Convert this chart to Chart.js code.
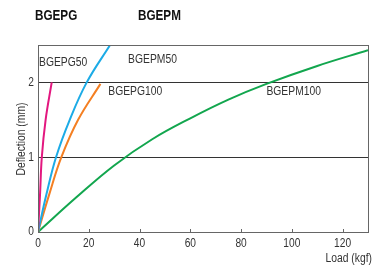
<!DOCTYPE html>
<html>
<head>
<meta charset="utf-8">
<script src="https://cdn.jsdelivr.net/npm/chart.js@4"></script>
<style>
  html, body { margin: 0; padding: 0; background: #fff; }
  #wrap { position: relative; width: 376px; height: 269px; }
</style>
</head>
<body>
<div id="wrap"><canvas id="deflectionChart" width="376" height="269"></canvas></div>
<script>
// values (load kgf -> deflection mm)
const pg50Load = [0, 0.8, 1.5, 3.0, 5.4];
const pg50Defl = [0, 0.5, 1.0, 1.5, 2.0];
const pm50Load = [0, 3.3, 7.1, 12.5, 19.2, 28.4];
const pm50Defl = [0, 0.5, 1.0, 1.5, 2.0, 2.5];
const pg100Load = [0, 4.4, 9.2, 15.8, 24.6];
const pg100Defl = [0, 0.5, 1.0, 1.5, 1.98];
const pm100Load = [0, 15, 30, 45, 60, 75, 90, 110, 130];
const pm100Defl = [0, 0.46, 0.89, 1.24, 1.52, 1.77, 1.98, 2.22, 2.43];

const xTicks = [0, 20, 40, 60, 80, 100, 120];
const yTicks = [0, 1, 2];
const seriesNames = ['BGEPG50', 'BGEPM50', 'BGEPG100', 'BGEPM100'];
const groupTitles = ['BGEPG', 'BGEPM'];
const xTitle = 'Load (kgf)';
const yTitle = 'Deflection (mm)';

const fontFam = "'Liberation Sans', Arial, sans-serif";

function pts(xs, ys) {
    return xs.map((x, i) => ({ x: x, y: ys[i] }));
}

// labels placed next to curves, in data units
const curveLabels = [
    { text: seriesNames[0], x: 0.4, y: 2.26 },
    { text: seriesNames[1], x: 35.5, y: 2.31 },
    { text: seriesNames[2], x: 27.7, y: 1.87 },
    { text: seriesNames[3], x: 90, y: 1.88 }
];

// narrow text, like the condensed face of the original
function narrowText(c, text, x, y, align, sx) {
    c.save();
    c.translate(x, y);
    c.scale(sx, 1);
    c.textAlign = align;
    c.fillText(text, 0, 0);
    c.restore();
}

const decorPlugin = {
    id: 'decor',
    afterDraw(chart) {
        const c = chart.ctx;
        const xs = chart.scales.x;
        const ys = chart.scales.y;
        const area = chart.chartArea;
        c.save();
        // inner tick marks on x axis
        c.strokeStyle = '#666';
        c.lineWidth = 1;
        xTicks.forEach(v => {
            const px = Math.round(xs.getPixelForValue(v)) + 0.5;
            c.beginPath();
            c.moveTo(px, area.bottom);
            c.lineTo(px, area.bottom - 3);
            c.stroke();
        });
        // frame
        c.strokeStyle = '#666';
        c.strokeRect(Math.round(area.left) + 0.5, Math.round(area.top) + 0.5,
            Math.round(area.right - area.left), Math.round(area.bottom - area.top));

        c.fillStyle = '#333';
        c.textBaseline = 'middle';
        c.font = '12px ' + fontFam;
        // tick labels
        xTicks.forEach(v => {
            narrowText(c, String(v), xs.getPixelForValue(v), area.bottom + 12, 'center', 0.85);
        });
        yTicks.forEach(v => {
            narrowText(c, String(v), area.left - 4, ys.getPixelForValue(v), 'right', 0.85);
        });
        // axis titles
        narrowText(c, xTitle, 372, 259, 'right', 0.86);
        c.save();
        c.translate(22, 139);
        c.rotate(-Math.PI / 2);
        narrowText(c, yTitle, 0, 0, 'center', 0.86);
        c.restore();
        // curve labels
        curveLabels.forEach(l => {
            narrowText(c, l.text, xs.getPixelForValue(l.x), ys.getPixelForValue(l.y), 'left', 0.86);
        });
        // group titles
        c.fillStyle = '#111';
        c.font = 'bold 15px ' + fontFam;
        narrowText(c, groupTitles[0], 35, 16, 'left', 0.78);
        narrowText(c, groupTitles[1], 138, 16, 'left', 0.78);
        c.restore();
    }
};

function line(data, color) {
    return {
        data: data,
        borderColor: color,
        backgroundColor: color,
        borderWidth: 2,
        pointRadius: 0,
        showLine: true,
        tension: 0.4,
        fill: false
    };
}

new Chart(document.getElementById('deflectionChart'), {
    type: 'scatter',
    data: {
        datasets: [
            line(pts(pg50Load, pg50Defl), '#e3177f'),
            line(pts(pm50Load, pm50Defl), '#1cabe6'),
            line(pts(pg100Load, pg100Defl), '#f47f22'),
            line(pts(pm100Load, pm100Defl), '#12a64e')
        ]
    },
    options: {
        responsive: false,
        animation: false,
        layout: { padding: { top: 45, right: 8, left: 0, bottom: 0 } },
        plugins: {
            legend: { display: false },
            tooltip: { enabled: false }
        },
        scales: {
            x: {
                type: 'linear',
                min: 0,
                max: 130,
                afterBuildTicks: axis => { axis.ticks = xTicks.map(v => ({ value: v })); },
                afterFit: axis => { axis.height = 37; },
                ticks: { display: false },
                grid: { display: false, drawTicks: false },
                border: { display: false }
            },
            y: {
                type: 'linear',
                min: 0,
                max: 2.5,
                afterBuildTicks: axis => { axis.ticks = yTicks.map(v => ({ value: v })); },
                afterFit: axis => { axis.width = 38; },
                ticks: { display: false },
                grid: {
                    color: ctx => (ctx.tick && ctx.tick.value > 0 ? '#333' : 'rgba(0,0,0,0)'),
                    drawTicks: false,
                    lineWidth: 1
                },
                border: { display: false }
            }
        }
    },
    plugins: [decorPlugin]
});
</script>
</body>
</html>
